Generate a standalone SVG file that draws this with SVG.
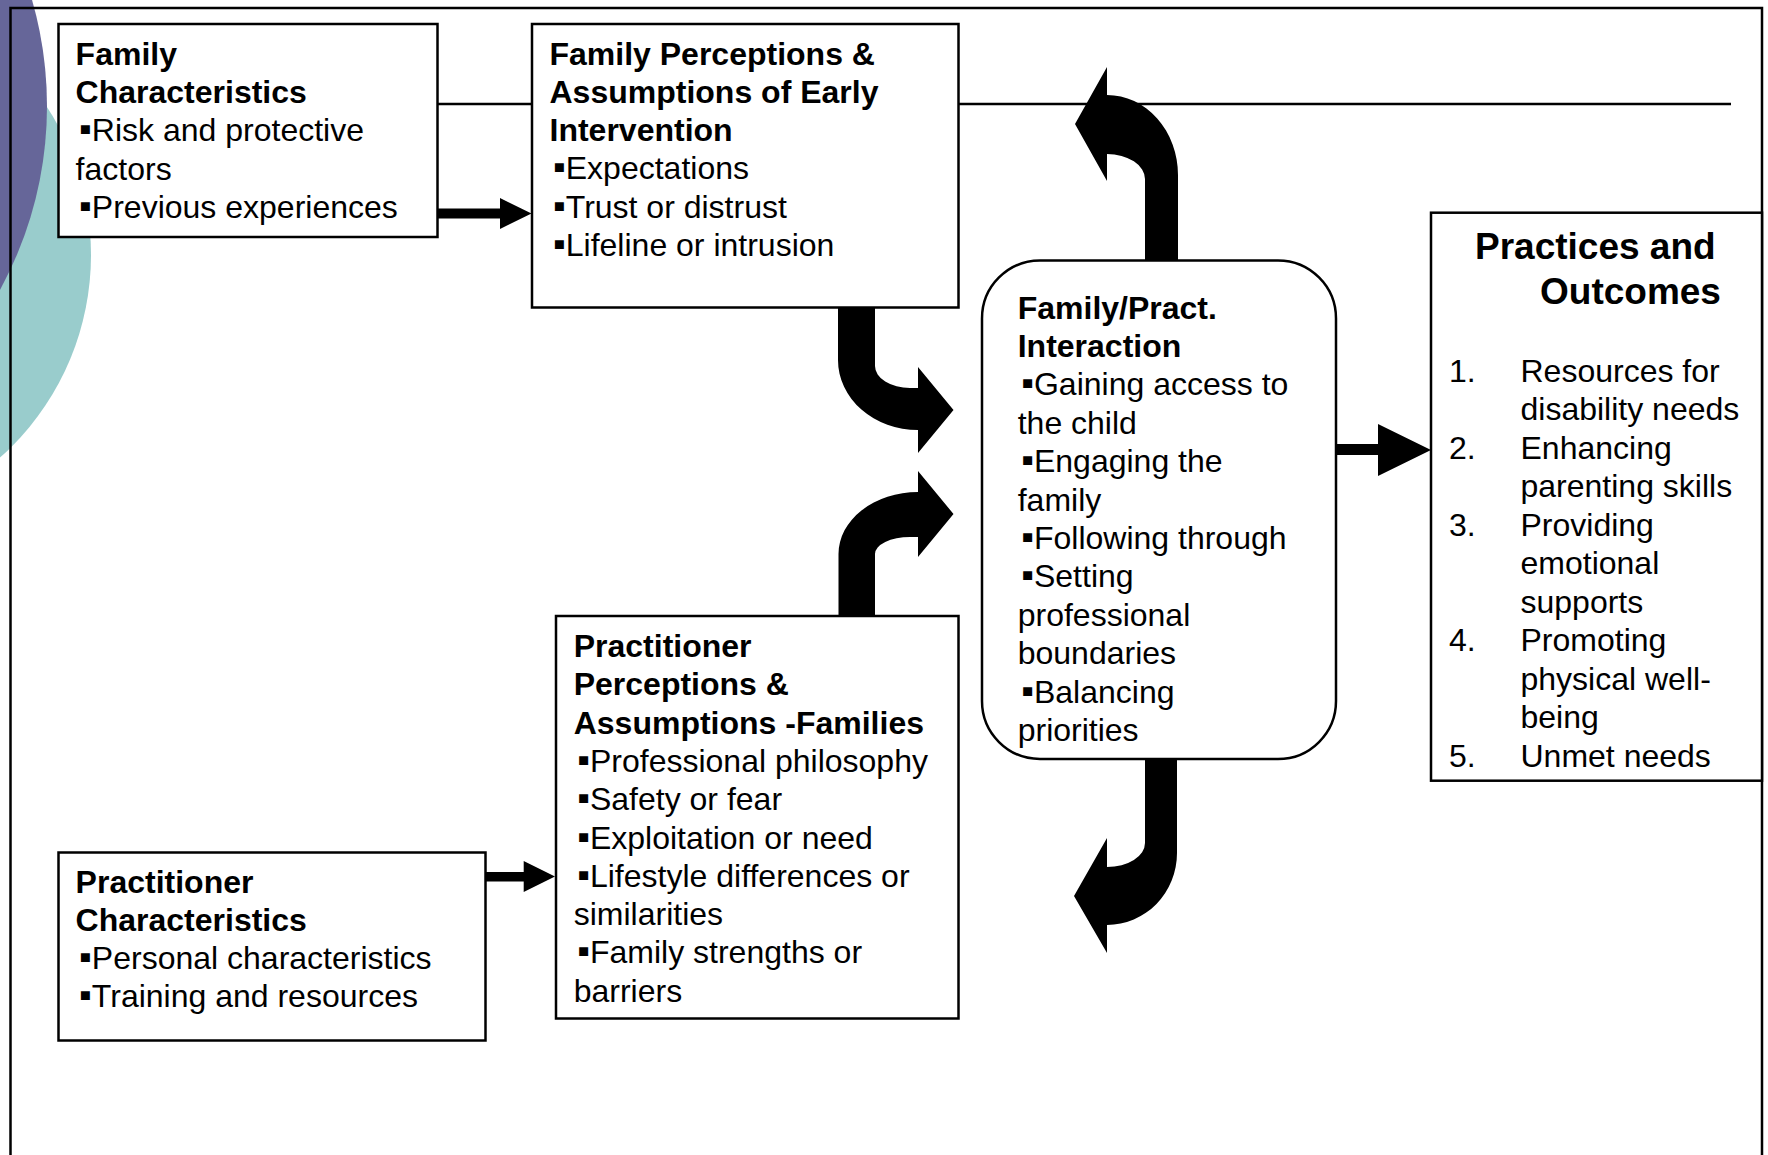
<svg xmlns="http://www.w3.org/2000/svg" width="1768" height="1155" viewBox="0 0 1768 1155">
<style>
.box{fill:#fff;stroke:#000;stroke-width:2.5}
.ln{fill:none;stroke:#000;stroke-width:2.5}
.ar{fill:#000;stroke:none}
text{font-family:"Liberation Sans",Arial,sans-serif;font-size:32px;fill:#000}
.b{font-weight:bold}
.h{font-weight:bold;font-size:37px}
.bl{font-size:36px}
</style>
<rect x="0" y="0" width="1768" height="1155" fill="#fff"/>
<g id="decor">
<circle cx="-180" cy="255" r="271" fill="#99CCCC"/>
<circle cx="-336" cy="106" r="383" fill="#666699"/>
<path class="ln" d="M10.5,1160 V8 H1762 V1160"/>
</g>
<g id="connectors">
<path class="ln" d="M437,104 H1731"/>
<path class="ar" d="M437,208.5 L500,208.5 L500,198 L531.5,213.5 L500,229 L500,218.5 L437,218.5 Z"/>
<path class="ar" d="M1336,444 L1378,444 L1378,424 L1431,450 L1378,476 L1378,455 L1336,455 Z"/>
<path class="ar" d="M485,872 L523.7,872 L523.7,861 L555,876.5 L523.7,892 L523.7,881.5 L485,881.5 Z"/>
<path class="ar" d="M838,307 L875,307 L875,366 A35,22 0 0 0 910,388 L918,388 L918,367 L953.5,410 L918,453 L918,430 A80,70 0 0 1 838,360 Z"/>
<path class="ar" d="M838.5,617 L838.5,554 A80,62 0 0 1 918,492 L918,471 L953.5,514 L918,557 L918,537 L910,537 A35,17 0 0 0 875,554 L875,617 Z"/>
<path class="ar" d="M1178,262 L1178,175 A71,80 0 0 0 1107,95 L1107,67 L1075,124 L1107,181 L1107,154 A38,25 0 0 1 1145,179 L1145,262 Z"/>
<path class="ar" d="M1145,758 L1145,843 A38,24 0 0 1 1107,867 L1107,838 L1074,896 L1107,953 L1107,925 A70,72 0 0 0 1177,853 L1177,758 Z"/>
</g>
<g id="family-characteristics">
<rect class="box" x="58.5" y="24" width="379" height="213"/>
<text class="b" x="75.6" y="65">Family</text>
<text class="b" x="75.6" y="103">Characteristics</text>
<text x="75.6" y="141.3"><tspan class="bl" dx="3.5">▪</tspan>Risk and protective</text>
<text x="75.6" y="179.6">factors</text>
<text x="75.6" y="217.9"><tspan class="bl" dx="3.5">▪</tspan>Previous experiences</text>
</g>
<g id="family-perceptions">
<rect class="box" x="532" y="24" width="426.5" height="283.5"/>
<text class="b" x="549.5" y="64.5">Family Perceptions &amp;</text>
<text class="b" x="549.5" y="102.8">Assumptions of Early</text>
<text class="b" x="549.5" y="141.1">Intervention</text>
<text x="549.5" y="179.4"><tspan class="bl" dx="3.5">▪</tspan>Expectations</text>
<text x="549.5" y="217.7"><tspan class="bl" dx="3.5">▪</tspan>Trust or distrust</text>
<text x="549.5" y="256"><tspan class="bl" dx="3.5">▪</tspan>Lifeline or intrusion</text>
</g>
<g id="interaction">
<rect class="box" x="982" y="260.5" width="354" height="498.5" rx="58" ry="58"/>
<text class="b" x="1017.7" y="318.5">Family/Pract.</text>
<text class="b" x="1017.7" y="356.9">Interaction</text>
<text x="1017.7" y="395.3"><tspan class="bl" dx="3.5">▪</tspan>Gaining access to</text>
<text x="1017.7" y="433.7">the child</text>
<text x="1017.7" y="472.1"><tspan class="bl" dx="3.5">▪</tspan>Engaging the</text>
<text x="1017.7" y="510.5">family</text>
<text x="1017.7" y="548.9"><tspan class="bl" dx="3.5">▪</tspan>Following through</text>
<text x="1017.7" y="587.3"><tspan class="bl" dx="3.5">▪</tspan>Setting</text>
<text x="1017.7" y="625.7">professional</text>
<text x="1017.7" y="664.1">boundaries</text>
<text x="1017.7" y="702.5"><tspan class="bl" dx="3.5">▪</tspan>Balancing</text>
<text x="1017.7" y="740.9">priorities</text>
</g>
<g id="practices-outcomes">
<rect class="box" x="1431" y="212.7" width="331" height="568"/>
<text class="h" x="1475" y="259">Practices and</text>
<text class="h" x="1540" y="304">Outcomes</text>
<text x="1449" y="381.5">1.</text><text x="1520.5" y="381.5">Resources for</text>
<text x="1520.5" y="420">disability needs</text>
<text x="1449" y="458.5">2.</text><text x="1520.5" y="458.5">Enhancing</text>
<text x="1520.5" y="497">parenting skills</text>
<text x="1449" y="535.5">3.</text><text x="1520.5" y="535.5">Providing</text>
<text x="1520.5" y="574">emotional</text>
<text x="1520.5" y="612.5">supports</text>
<text x="1449" y="651">4.</text><text x="1520.5" y="651">Promoting</text>
<text x="1520.5" y="689.5">physical well-</text>
<text x="1520.5" y="728">being</text>
<text x="1449" y="766.5">5.</text><text x="1520.5" y="766.5">Unmet needs</text>
</g>
<g id="practitioner-perceptions">
<rect class="box" x="556" y="616" width="402.5" height="402.5"/>
<text class="b" x="573.7" y="657">Practitioner</text>
<text class="b" x="573.7" y="695.3">Perceptions &amp;</text>
<text class="b" x="573.7" y="733.6">Assumptions -Families</text>
<text x="573.7" y="771.9"><tspan class="bl" dx="3.5">▪</tspan>Professional philosophy</text>
<text x="573.7" y="810.2"><tspan class="bl" dx="3.5">▪</tspan>Safety or fear</text>
<text x="573.7" y="848.5"><tspan class="bl" dx="3.5">▪</tspan>Exploitation or need</text>
<text x="573.7" y="886.8"><tspan class="bl" dx="3.5">▪</tspan>Lifestyle differences or</text>
<text x="573.7" y="925.1">similarities</text>
<text x="573.7" y="963.4"><tspan class="bl" dx="3.5">▪</tspan>Family strengths or</text>
<text x="573.7" y="1001.7">barriers</text>
</g>
<g id="practitioner-characteristics">
<rect class="box" x="58.5" y="852.5" width="427" height="188"/>
<text class="b" x="75.6" y="892.5">Practitioner</text>
<text class="b" x="75.6" y="930.8">Characteristics</text>
<text x="75.6" y="969.1"><tspan class="bl" dx="3.5">▪</tspan>Personal characteristics</text>
<text x="75.6" y="1007.4"><tspan class="bl" dx="3.5">▪</tspan>Training and resources</text>
</g>
</svg>
